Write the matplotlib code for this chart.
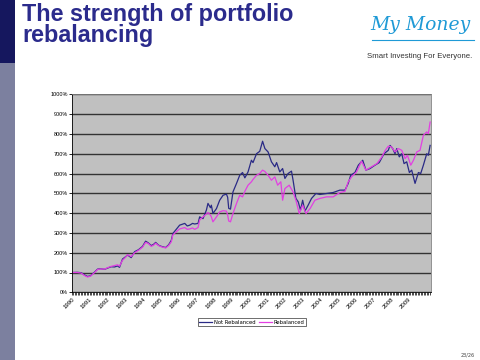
import numpy as np
import matplotlib
matplotlib.use("Agg")
from matplotlib import pyplot as plt
from matplotlib.patches import Rectangle

# values (% of starting value)
not_reb_years = [1990.0, 1990.3, 1990.52, 1990.7, 1990.88, 1991.05, 1991.25, 1991.44, 1991.6, 1991.84,
                 1992.0, 1992.21, 1992.4, 1992.57, 1992.68, 1992.85, 1993.0, 1993.14, 1993.34, 1993.53,
                 1993.75, 1993.98, 1994.15, 1994.3, 1994.47, 1994.6, 1994.72, 1994.88, 1995.04, 1995.28,
                 1995.45, 1995.6, 1995.69, 1995.89, 1996.07, 1996.36, 1996.5, 1996.64, 1996.8, 1996.92,
                 1997.11, 1997.2, 1997.39, 1997.58, 1997.67, 1997.81, 1997.86, 1997.95, 1998.15, 1998.33,
                 1998.52, 1998.71, 1998.78, 1998.84, 1998.94, 1999.08, 1999.28, 1999.46, 1999.62, 1999.75,
                 1999.93, 2000.12, 2000.21, 2000.41, 2000.59, 2000.75, 2000.88, 2001.06, 2001.25, 2001.44,
                 2001.54, 2001.72, 2001.88, 2002.01, 2002.19, 2002.38, 2002.47, 2002.63, 2002.76, 2002.89,
                 2003.01, 2003.14, 2003.32, 2003.51, 2003.76, 2003.98, 2004.36, 2004.73, 2005.11, 2005.4,
                 2005.58, 2005.72, 2005.96, 2006.15, 2006.4, 2006.58, 2006.81, 2007.09, 2007.33, 2007.6,
                 2007.84, 2007.94, 2008.09, 2008.22, 2008.32, 2008.46, 2008.6, 2008.73, 2008.88, 2009.03,
                 2009.16, 2009.35, 2009.54, 2009.67, 2009.82, 2010.01, 2010.1, 2010.2]
not_reb_vals = [100, 101, 99, 88, 80, 84, 100, 117, 119, 116,
                122, 129, 128, 133, 126, 168, 178, 188, 175, 205,
                215, 232, 258, 250, 236, 242, 252, 238, 232, 226,
                240, 262, 297, 319, 339, 348, 335, 339, 348, 345,
                348, 381, 372, 415, 449, 427, 440, 398, 423, 465,
                490, 496, 480, 424, 420, 507, 550, 591, 605, 578,
                608, 667, 655, 700, 712, 763, 726, 709, 659, 634,
                655, 608, 625, 575, 600, 612, 566, 474, 457, 415,
                465, 410, 440, 474, 499, 494, 499, 504, 516, 516,
                550, 591, 605, 642, 667, 617, 625, 642, 655, 700,
                717, 742, 726, 700, 726, 684, 700, 650, 659, 605,
                617, 550, 605, 600, 642, 700, 692, 742]

reb_years = [1990.0, 1990.3, 1990.52, 1990.7, 1990.88, 1991.05, 1991.25, 1991.44, 1991.6, 1991.84,
             1992.0, 1992.21, 1992.4, 1992.57, 1992.68, 1992.85, 1993.0, 1993.14, 1993.34, 1993.53,
             1993.75, 1993.98, 1994.15, 1994.3, 1994.47, 1994.6, 1994.72, 1994.88, 1995.04, 1995.28,
             1995.45, 1995.6, 1995.69, 1995.89, 1996.07, 1996.36, 1996.5, 1996.64, 1996.8, 1996.92,
             1997.11, 1997.2, 1997.39, 1997.58, 1997.67, 1997.81, 1997.86, 1997.95, 1998.15, 1998.33,
             1998.52, 1998.71, 1998.78, 1998.84, 1998.94, 1999.08, 1999.28, 1999.46, 1999.62, 1999.75,
             1999.93, 2000.12, 2000.21, 2000.41, 2000.59, 2000.75, 2000.88, 2001.06, 2001.25, 2001.44,
             2001.6, 2001.78, 2001.88, 2002.01, 2002.25, 2002.47, 2002.63, 2002.82, 2003.01, 2003.2,
             2003.43, 2003.7, 2003.98, 2004.36, 2004.73, 2005.11, 2005.4, 2005.58, 2005.77, 2006.05,
             2006.33, 2006.58, 2006.9, 2007.2, 2007.48, 2007.67, 2007.84, 2008.03, 2008.22, 2008.41,
             2008.6, 2008.79, 2008.92, 2009.11, 2009.26, 2009.45, 2009.63, 2009.82, 2010.01, 2010.1,
             2010.2]
reb_vals = [100, 100, 97, 85, 77, 82, 98, 115, 118, 117,
            124, 131, 135, 139, 132, 162, 175, 190, 180, 200,
            212, 228, 252, 247, 232, 238, 248, 236, 230, 224,
            236, 255, 290, 306, 320, 327, 318, 320, 325, 318,
            327, 365, 381, 395, 403, 390, 381, 356, 381, 406,
            412, 410, 390, 360, 356, 398, 449, 490, 482, 510,
            541, 558, 570, 591, 600, 617, 610, 591, 566, 583,
            541, 558, 465, 524, 541, 507, 465, 398, 440, 398,
            423, 465, 474, 482, 482, 504, 510, 558, 583, 608,
            662, 617, 634, 650, 684, 717, 738, 734, 709, 726,
            717, 675, 692, 642, 667, 709, 717, 793, 810, 801,
            860]

year_labels = [str(y) for y in range(1990, 2010)]
y_ticks = list(range(0, 1001, 100))

navy = "#2a2a86"
pink = "#e23fe2"

fig = plt.figure(figsize=(4.8, 3.6), dpi=100)
fig.patch.set_facecolor("white")

# left side bar of the slide
fig.patches.append(Rectangle((0, 1 - 63 / 360), 15 / 480, 63 / 360, transform=fig.transFigure,
                             facecolor="#15175e", edgecolor="none"))
fig.patches.append(Rectangle((0, 0), 15 / 480, 1 - 63 / 360, transform=fig.transFigure,
                             facecolor="#7c809f", edgecolor="none"))

fig.text(22 / 480, 1 - 3 / 360, "The strength of portfolio\nrebalancing", ha="left", va="top",
         fontsize=16.8, fontweight="bold", color="#2b2b8c", family="Liberation Sans", linespacing=0.88)

# logo
fig.text(420 / 480, 1 - 25 / 360, "My Money", ha="center", va="center", fontsize=13.5,
         style="italic", color="#1f9ad6", family="DejaVu Serif")
fig.add_artist(plt.Line2D([372 / 480, 474 / 480], [1 - 40 / 360, 1 - 40 / 360],
                          color="#1f9ad6", lw=0.8))
fig.text(420 / 480, 1 - 56 / 360, "Smart Investing For Everyone.", ha="center", va="center",
         fontsize=5.6, color="#333333", family="Liberation Sans")
fig.text(468 / 480, 1 - 355 / 360, "23/26", ha="center", va="center", fontsize=3.5, color="#444444")

ax = fig.add_axes([72 / 480, 1 - 292.3 / 360, 359 / 480, 198 / 360])
ax.set_facecolor("#c0c0c0")
ax.plot(not_reb_years, not_reb_vals, color=navy, lw=0.9, label="Not Rebalanced")
ax.plot(reb_years, reb_vals, color=pink, lw=0.9, label="Rebalanced")

ax.set_xlim(1990, 2010.25)
ax.set_ylim(0, 1000)
ax.set_yticks(y_ticks)
ax.set_yticklabels([f"{v}%" for v in y_ticks], fontsize=4, family="Liberation Sans")
ax.yaxis.grid(True, color="#333333", lw=1.0)
ax.set_axisbelow(True)

ax.set_xticks(np.arange(1990, 2010))
ax.set_xticks(np.arange(1990, 2010.25, 1 / 12), minor=True)
ax.set_xticklabels(year_labels, rotation=45, ha="right", va="top", rotation_mode="anchor",
                   fontsize=4.3, family="Liberation Sans")
ax.tick_params(axis="x", which="both", length=2, width=0.5, pad=1)
ax.tick_params(axis="y", length=2, width=0.6, pad=1)

for side in ["top", "right"]:
    ax.spines[side].set_color("#808080")
    ax.spines[side].set_linewidth(0.6)
for side in ["left", "bottom"]:
    ax.spines[side].set_color("black")
    ax.spines[side].set_linewidth(0.6)

leg = fig.legend(loc="center", bbox_to_anchor=(252 / 480, 1 - 322 / 360), ncol=2, fontsize=3.8,
                 frameon=True, fancybox=False, edgecolor="black", handlelength=2.3,
                 borderpad=0.3, columnspacing=0.8, handletextpad=0.4)
leg.get_frame().set_linewidth(0.5)

fig.savefig("out.png", dpi=100)
